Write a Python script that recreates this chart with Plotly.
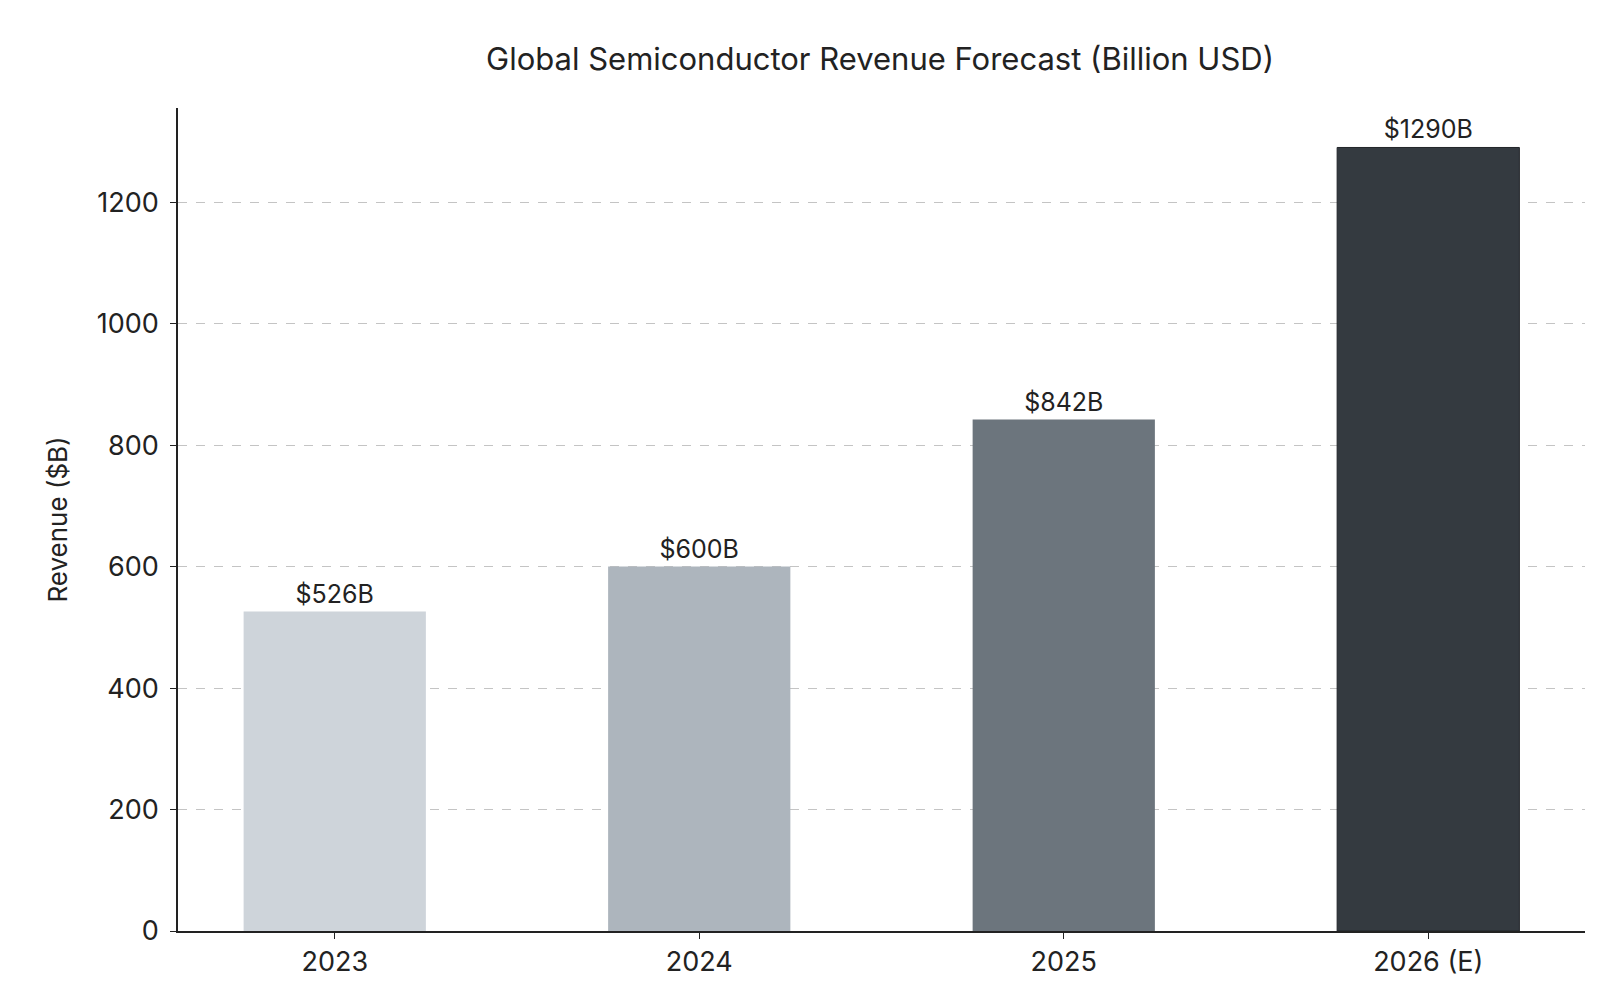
import plotly.graph_objects as go

# data
years = ["2023", "2024", "2025", "2026 (E)"]
revenue = [526, 600, 842, 1290]
bar_colors = ["#ced4da", "#adb5bd", "#6c757d", "#343a40"]
labels = ["$%dB" % v for v in revenue]

fig = go.Figure()
fig.add_trace(go.Bar(
    x=years, y=revenue, width=0.5,
    marker=dict(color=bar_colors, line=dict(color="#212529", width=[0, 0, 0, 1])),
    text=labels, textposition="outside", cliponaxis=False,
    textfont=dict(size=25, color="#222"),
))

fig.update_layout(
    width=1600, height=1000,
    plot_bgcolor="white", paper_bgcolor="white",
    font=dict(family="Inter, Roboto, sans-serif", size=25, color="#222"),
    title=dict(text="Global Semiconductor Revenue Forecast (Billion USD)",
               x=0.545, xanchor="center", y=0.96, font=dict(size=31)),
    margin=dict(l=170, r=23, t=100, b=77),
    showlegend=False,
)
fig.update_xaxes(range=[-0.43, 3.43], showline=True, linecolor="#222", linewidth=1.5,
                 ticks="outside", ticklen=6, tickcolor="#222", tickfont=dict(size=27))
fig.update_yaxes(range=[0, 1355], dtick=200, showline=True, linecolor="#222", linewidth=1.5,
                 ticks="outside", ticklen=6, tickcolor="#222", tickfont=dict(size=27),
                 ticklabelstandoff=6,
                 showgrid=True, gridcolor="#c4c4c4", griddash="dash", gridwidth=1.2,
                 title=dict(text="Revenue ($B)", font=dict(size=26), standoff=22),
                 zeroline=False)

fig.write_html("out.html")
